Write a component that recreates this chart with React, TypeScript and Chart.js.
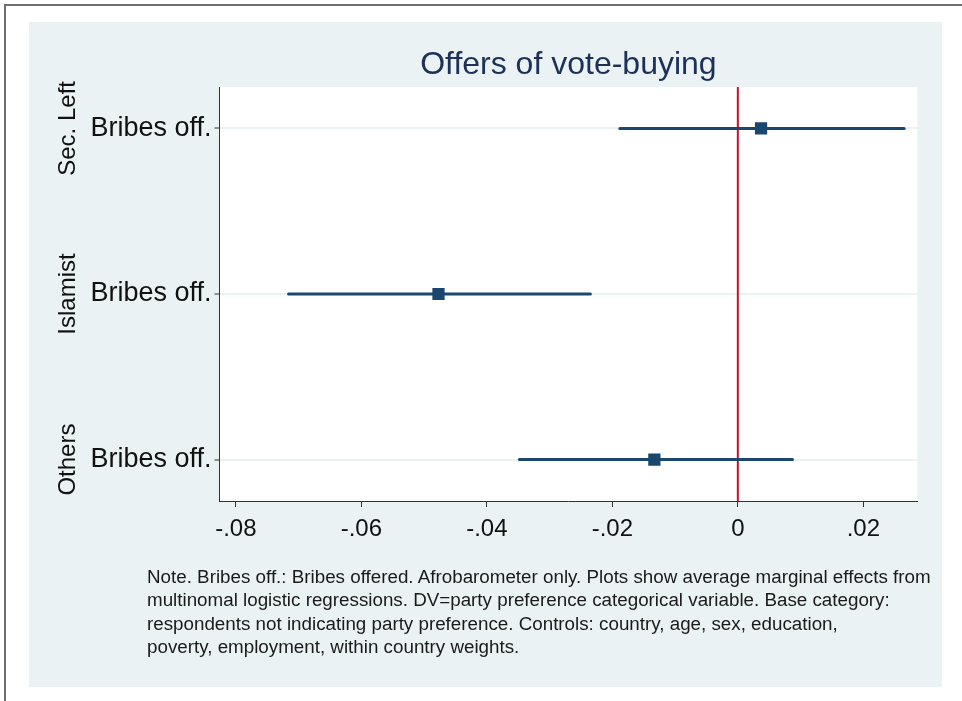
import React, { useEffect, useRef } from "react";
import { Chart, registerables } from "chart.js";

Chart.register(...registerables);

const titleText = "Offers of vote-buying";
const groups = ["Sec. Left", "Islamist", "Others"];
const yTickLabels = ["Bribes off.", "Bribes off.", "Bribes off."];
const estimates = [0.0037, -0.0477, -0.0133];
const lowerCI = [-0.0188, -0.0716, -0.0348];
const upperCI = [0.0265, -0.0235, 0.0087];
const xTickValues = [-0.08, -0.06, -0.04, -0.02, 0, 0.02];
const xTickLabels = ["-.08", "-.06", "-.04", "-.02", "0", ".02"];
const noteLines = [
  "Note. Bribes off.: Bribes offered. Afrobarometer only. Plots show average marginal effects from",
  "multinomal logistic regressions. DV=party preference categorical variable. Base category:",
  "respondents not indicating party preference. Controls: country, age, sex, education,",
  "poverty, employment, within country weights.",
];

const FONT = "'Liberation Sans', Arial, Helvetica, sans-serif";
const NAVY = "#1a476f";
const PANEL = "#eaf2f3";

export default function App() {
  const canvasRef = useRef<HTMLCanvasElement | null>(null);

  useEffect(() => {
    const canvas = canvasRef.current;
    if (!canvas) return;

    const whitePlot = {
      id: "whitePlot",
      beforeDraw(chart: any) {
        const { ctx, chartArea } = chart;
        ctx.save();
        ctx.fillStyle = "#ffffff";
        ctx.fillRect(chartArea.left, chartArea.top, chartArea.right - chartArea.left, chartArea.bottom - chartArea.top);
        ctx.restore();
      },
    };

    const groupLabels = {
      id: "groupLabels",
      afterDraw(chart: any) {
        const { ctx } = chart;
        const yScale = chart.scales.y;
        ctx.save();
        ctx.fillStyle = "#111111";
        ctx.font = `24px ${FONT}`;
        ctx.textAlign = "center";
        ctx.textBaseline = "middle";
        groups.forEach((g, i) => {
          const y = yScale.getPixelForValue(i + 1);
          ctx.save();
          ctx.translate(39, y);
          ctx.rotate(-Math.PI / 2);
          ctx.fillText(g, 0, 0);
          ctx.restore();
        });
        ctx.restore();
      },
    };

    const datasets: any[] = [];
    groups.forEach((g, i) => {
      datasets.push({
        type: "line",
        label: g + " CI",
        data: [
          { x: lowerCI[i], y: i + 1 },
          { x: upperCI[i], y: i + 1 },
        ],
        borderColor: NAVY,
        borderWidth: 3,
        pointRadius: 0,
        borderCapStyle: "round",
        order: 2,
      });
    });
    datasets.push({
      type: "scatter",
      label: "Estimate",
      data: estimates.map((v, i) => ({ x: v, y: i + 1 })),
      backgroundColor: NAVY,
      borderColor: NAVY,
      borderWidth: 1.5,
      borderJoinStyle: "round",
      pointStyle: "rect",
      pointRadius: 7.6,
      order: 1,
    });
    datasets.push({
      type: "line",
      label: "zero",
      data: [
        { x: 0, y: 0.75 },
        { x: 0, y: 3.25 },
      ],
      borderColor: "#c8102e",
      borderWidth: 2,
      pointRadius: 0,
      order: 10,
    });

    const chart = new Chart(canvas, {
      type: "scatter",
      data: { datasets },
      plugins: [whitePlot, groupLabels],
      options: {
        animation: false,
        responsive: false,
        maintainAspectRatio: false,
        layout: { padding: { top: 0, right: 24.7, bottom: 0, left: 0 } },
        plugins: {
          legend: { display: false },
          tooltip: { enabled: false },
          title: {
            display: true,
            text: titleText,
            fullSize: false,
            color: "#1c3058",
            font: { family: FONT, size: 32, weight: "normal" },
            padding: { top: 24, bottom: 2.6 },
          },
        },
        scales: {
          x: {
            type: "linear",
            min: -0.0826,
            max: 0.0286,
            afterBuildTicks: (scale: any) => {
              scale.ticks = xTickValues.map((v) => ({ value: v }));
            },
            afterFit: (scale: any) => {
              scale.height = 186;
            },
            ticks: {
              autoSkip: false,
              maxRotation: 0,
              color: "#111111",
              font: { family: FONT, size: 24 },
              padding: 8,
              callback: (v: any) => {
                const idx = xTickValues.findIndex((t) => Math.abs(t - v) < 1e-9);
                return idx >= 0 ? xTickLabels[idx] : "";
              },
            },
            grid: {
              drawOnChartArea: false,
              drawTicks: true,
              tickLength: 6,
              tickColor: "#333333",
              tickWidth: 1,
            },
            border: { display: true, color: "#333333", width: 1 },
          },
          y: {
            type: "linear",
            min: 0.75,
            max: 3.25,
            reverse: true,
            afterBuildTicks: (scale: any) => {
              scale.ticks = [1, 2, 3].map((v) => ({ value: v }));
            },
            afterFit: (scale: any) => {
              scale.width = 190.5;
            },
            ticks: {
              autoSkip: false,
              color: "#111111",
              font: { family: FONT, size: 27 },
              padding: 3,
              callback: (v: any) => yTickLabels[Math.round(v) - 1] ?? "",
            },
            grid: {
              color: PANEL,
              lineWidth: 2,
              drawTicks: true,
              tickLength: 5,
              tickColor: "#333333",
              tickWidth: 1,
            },
            border: { display: true, color: "#333333", width: 1 },
          },
        },
      } as any,
    });

    return () => chart.destroy();
  }, []);

  return (
    <div style={{ position: "fixed", left: 0, top: 0, width: 962, height: 701, background: "#ffffff", overflow: "hidden" }}>
      <div
        style={{
          position: "absolute",
          left: 4,
          top: 4,
          width: 980,
          height: 720,
          borderTop: "2px solid #6e6e6e",
          borderLeft: "2px solid #6e6e6e",
        }}
      />
      <div style={{ position: "absolute", left: 29, top: 22, width: 913, height: 665, background: PANEL }}>
        <canvas ref={canvasRef} width={913} height={665} style={{ width: 913, height: 665, display: "block" }} />
      </div>
      <div
        style={{
          position: "absolute",
          left: 147,
          top: 565,
          fontFamily: FONT,
          fontSize: 18.8,
          lineHeight: "23.4px",
          color: "#1a1a1a",
          whiteSpace: "nowrap",
        }}
      >
        {noteLines.map((l, i) => (
          <div key={i}>{l}</div>
        ))}
      </div>
    </div>
  );
}
